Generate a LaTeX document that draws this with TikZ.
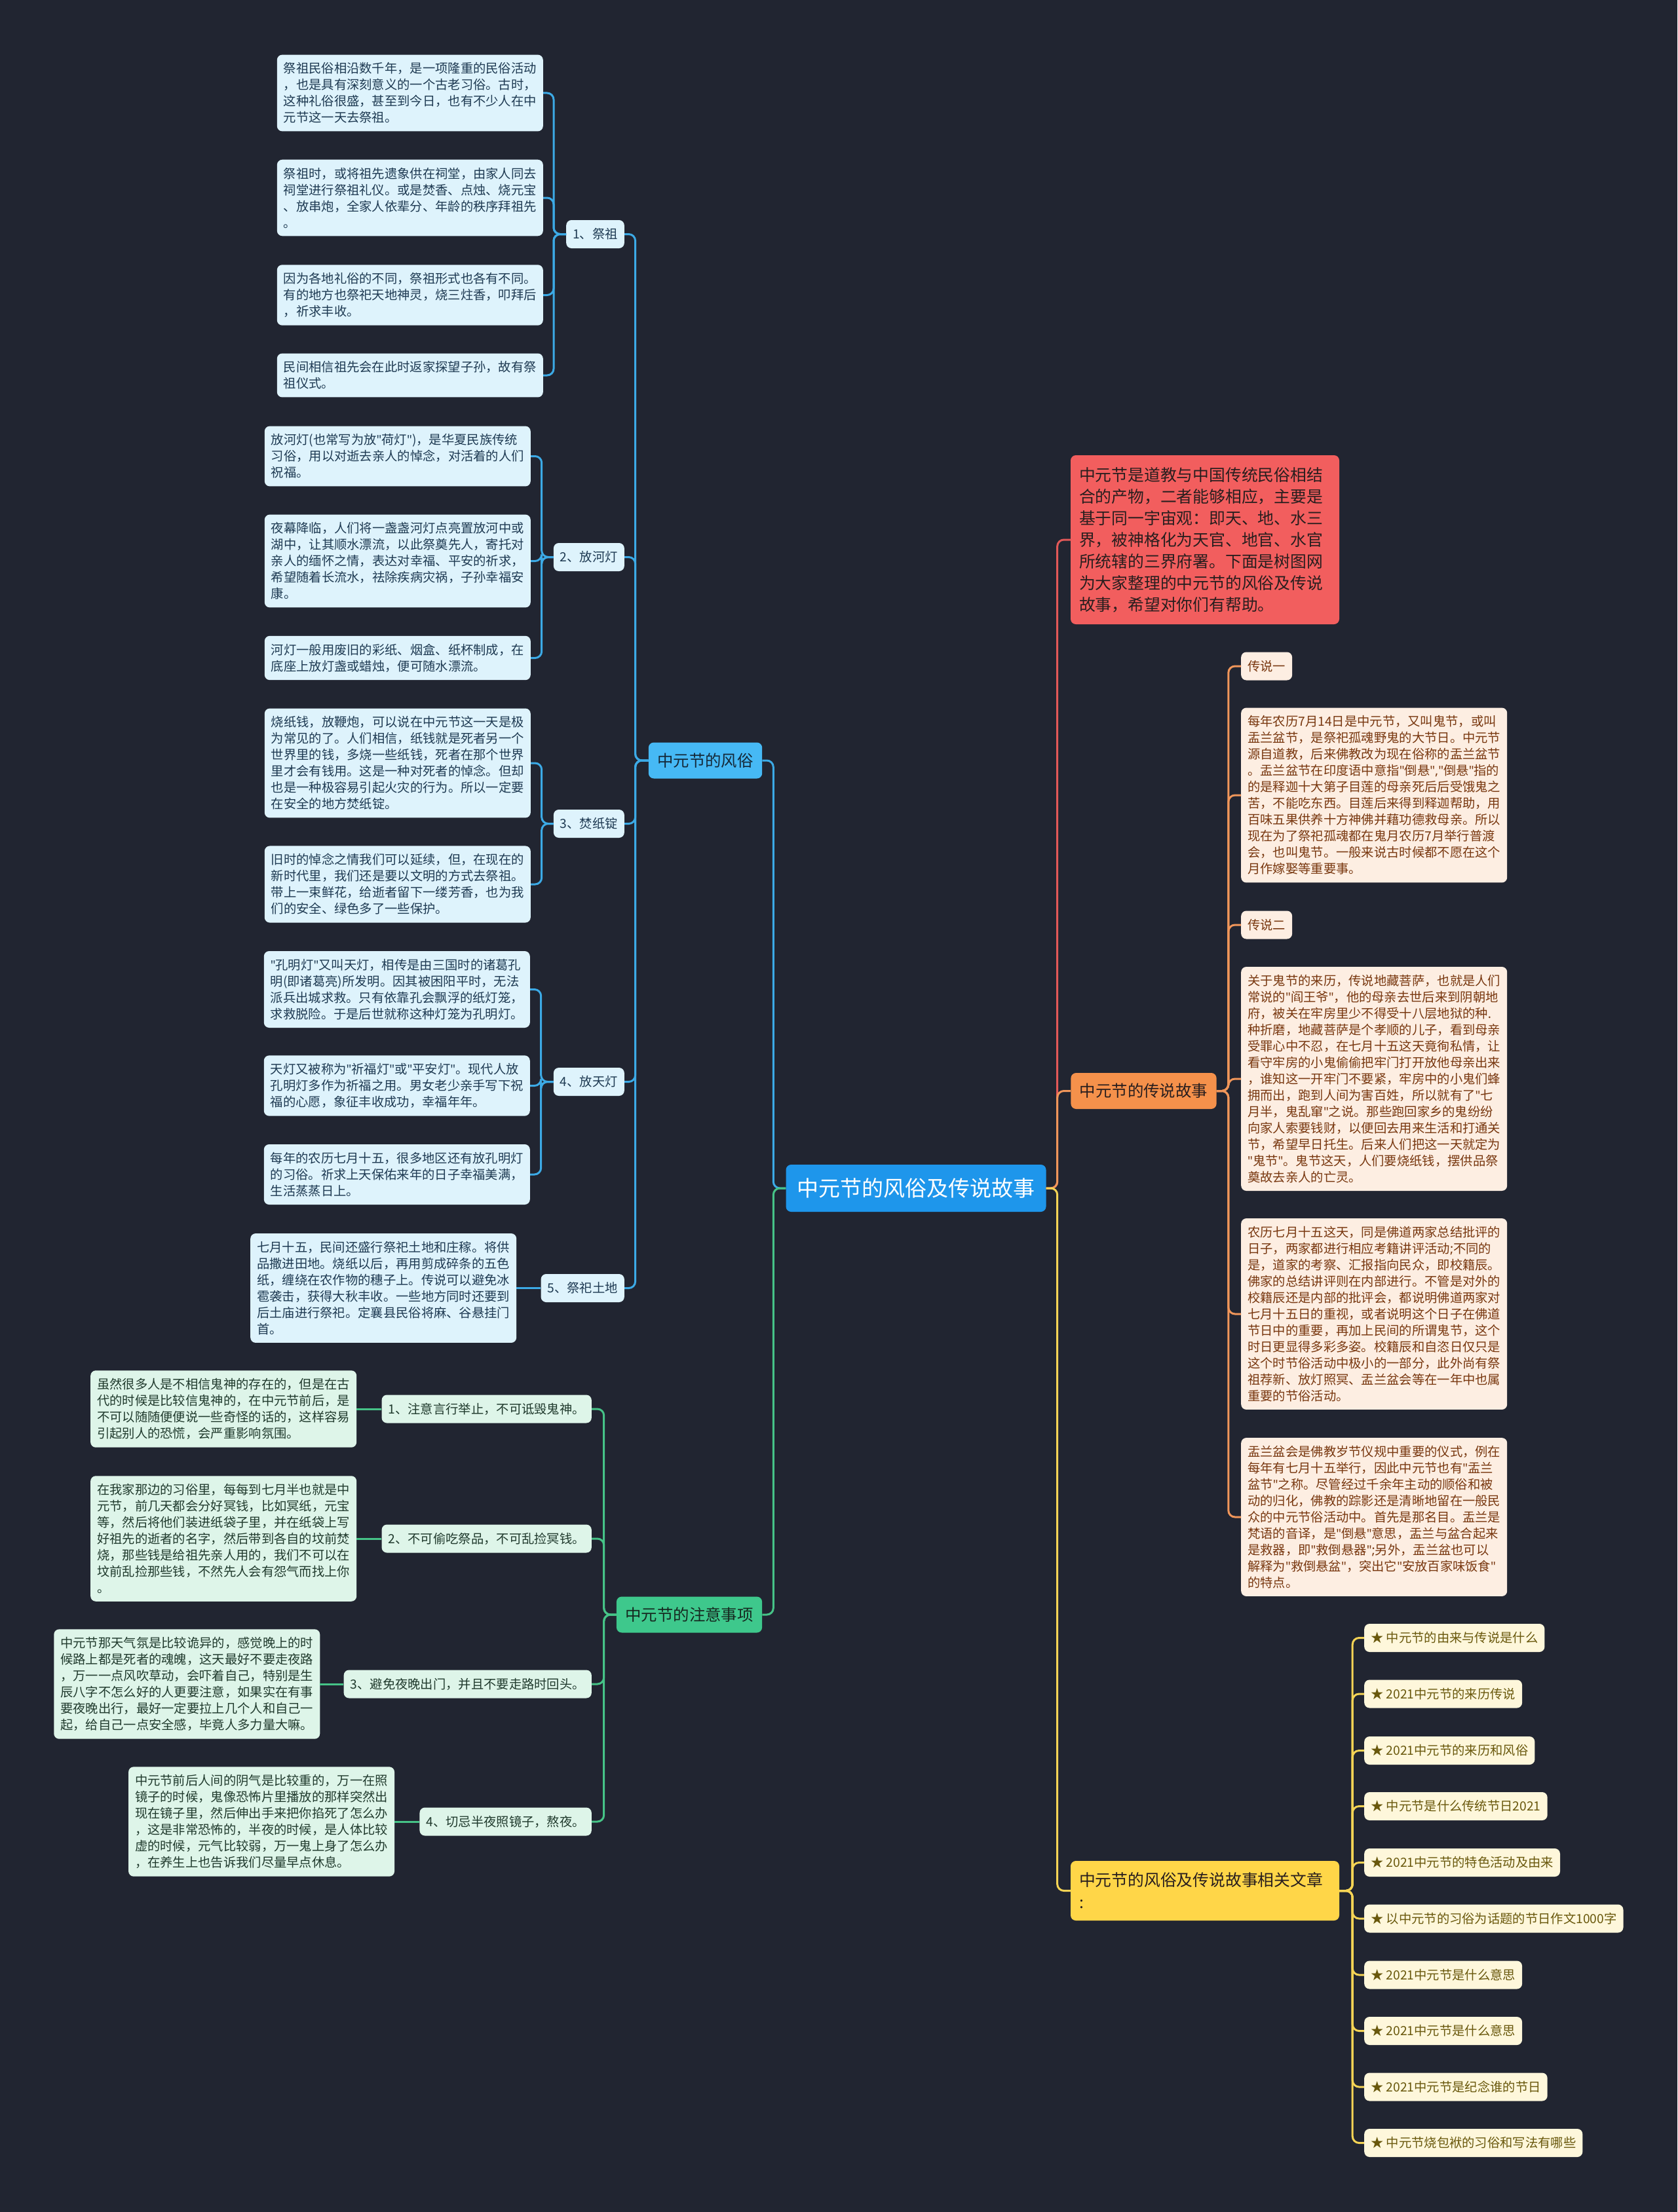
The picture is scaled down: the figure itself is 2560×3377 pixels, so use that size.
\documentclass[tikz,border=0pt]{standalone}
\usepackage{fontspec}
\setmainfont{Noto Sans CJK SC}
\newfontfamily\latinfont{Noto Sans}
\newcommand{\dq}{{\latinfont"}}
\usepackage{tikz}
\usepackage{xcolor}
\definecolor{bgdark}{RGB}{33,37,49}
\definecolor{rootblue}{RGB}{30,150,235}
\definecolor{skyblue}{RGB}{70,185,245}
\definecolor{bline}{RGB}{60,170,230}
\definecolor{bpale}{RGB}{222,243,252}
\definecolor{btext}{RGB}{30,58,82}
\definecolor{mint}{RGB}{62,200,140}
\definecolor{gline}{RGB}{70,195,135}
\definecolor{gpale}{RGB}{222,245,233}
\definecolor{gtext}{RGB}{32,58,45}
\definecolor{introred}{RGB}{242,94,94}
\definecolor{rline}{RGB}{226,88,88}
\definecolor{ptorange}{RGB}{245,145,75}
\definecolor{oline}{RGB}{240,150,90}
\definecolor{opale}{RGB}{253,238,226}
\definecolor{otext}{RGB}{120,55,15}
\definecolor{ptyellow}{RGB}{255,214,72}
\definecolor{yline}{RGB}{245,212,85}
\definecolor{ypale}{RGB}{254,247,219}
\definecolor{ytext}{RGB}{105,88,12}
\definecolor{darkink}{RGB}{40,30,30}
\usetikzlibrary{positioning}

\begin{document}
\begin{tikzpicture}[x=1pt, y=-1pt,
  rootnode/.style={fill=rootblue, text=white, rounded corners=8pt, inner xsep=17pt,
    minimum height=72pt, font=\fontsize{33}{40}\selectfont},
  branch/.style={rounded corners=8pt, inner xsep=13.5pt, minimum height=55pt,
    text=darkink, font=\fontsize{24.4}{33}\selectfont},
  bigbox/.style={rounded corners=8pt, inner xsep=13pt, text width=384pt, align=left,
    text=darkink},
  child/.style={rounded corners=8pt, inner xsep=10pt, minimum height=43pt,
    font=\fontsize{19.3}{25}\selectfont},
  leaf/.style={rounded corners=8pt, text width=386pt, inner xsep=10pt, inner ysep=12pt,
    align=left, font=\fontsize{19.3}{25}\selectfont},
  link/.style={draw=#1, line width=3pt, rounded corners=10pt}]

  \useasboundingbox (0,0) rectangle (2560,3377);
  \fill[bgdark] (0,0) rectangle (2560,3377);

  \node[rootnode] (root) at (1398,1814) {中元节的风俗及传说故事};

  \node[branch, fill=skyblue, text=btext!70!black] (fengsu) at (1076.5,1161) {中元节的风俗};
  \node[branch, fill=mint, text=gtext!70!black] (zhuyi) at (1052,2465) {中元节的注意事项};
  \node[bigbox, fill=introred, minimum height=258pt, font=\fontsize{24.8}{33}\selectfont]
    (intro) at (1839,824) {中元节是道教与中国传统民俗相结\\合的产物，二者能够相应，主要是\\基于同一宇宙观：即天、地、水三\\界，被神格化为天官、地官、水官\\所统辖的三界府署。下面是树图网\\为大家整理的中元节的风俗及传说\\故事，希望对你们有帮助。};
  \node[branch, fill=ptorange] (chuanshuo) at (1745.5,1665.5) {中元节的传说故事};
  \node[bigbox, fill=ptyellow, minimum height=91pt, font=\fontsize{24.8}{34}\selectfont]
    (wenzhang) at (1839,2886.5) {中元节的风俗及传说故事相关文章\\:};

  \node[child, fill=bpale, text=btext, anchor=east] (fs1) at (953,357.5) {1、祭祖};
  \node[child, fill=bpale, text=btext, anchor=east] (fs2) at (953,850.5) {2、放河灯};
  \node[child, fill=bpale, text=btext, anchor=east] (fs3) at (953,1257.5) {3、焚纸锭};
  \node[child, fill=bpale, text=btext, anchor=east] (fs4) at (953,1651.5) {4、放天灯};
  \node[child, fill=bpale, text=btext, anchor=east] (fs5) at (953,1966.5) {5、祭祀土地};

  \node[leaf, fill=bpale, text=btext, anchor=east] (l11) at (829,142)
    {祭祖民俗相沿数千年，是一项隆重的民俗活动\\，也是具有深刻意义的一个古老习俗。古时，\\这种礼俗很盛，甚至到今日，也有不少人在中\\元节这一天去祭祖。};
  \node[leaf, fill=bpale, text=btext, anchor=east] (l12) at (829,302)
    {祭祖时，或将祖先遗象供在祠堂，由家人同去\\祠堂进行祭祖礼仪。或是焚香、点烛、烧元宝\\、放串炮，全家人依辈分、年龄的秩序拜祖先\\。};
  \node[leaf, fill=bpale, text=btext, anchor=east] (l13) at (829,450.5)
    {因为各地礼俗的不同，祭祖形式也各有不同。\\有的地方也祭祀天地神灵，烧三炷香，叩拜后\\，祈求丰收。};
  \node[leaf, fill=bpale, text=btext, anchor=east] (l14) at (829,573)
    {民间相信祖先会在此时返家探望子孙，故有祭\\祖仪式。};
  \node[leaf, fill=bpale, text=btext, anchor=east] (l21) at (810,696.5)
    {放河灯(也常写为放\dq{}荷灯\dq{})，是华夏民族传统\\习俗，用以对逝去亲人的悼念，对活着的人们\\祝福。};
  \node[leaf, fill=bpale, text=btext, anchor=east] (l22) at (810,856.5)
    {夜幕降临，人们将一盏盏河灯点亮置放河中或\\湖中，让其顺水漂流，以此祭奠先人，寄托对\\亲人的缅怀之情，表达对幸福、平安的祈求，\\希望随着长流水，祛除疾病灾祸，子孙幸福安\\康。};
  \node[leaf, fill=bpale, text=btext, anchor=east] (l23) at (810,1004.5)
    {河灯一般用废旧的彩纸、烟盒、纸杯制成，在\\底座上放灯盏或蜡烛，便可随水漂流。};
  \node[leaf, fill=bpale, text=btext, anchor=east] (l31) at (810,1165)
    {烧纸钱，放鞭炮，可以说在中元节这一天是极\\为常见的了。人们相信，纸钱就是死者另一个\\世界里的钱，多烧一些纸钱，死者在那个世界\\里才会有钱用。这是一种对死者的悼念。但却\\也是一种极容易引起火灾的行为。所以一定要\\在安全的地方焚纸锭。};
  \node[leaf, fill=bpale, text=btext, anchor=east] (l32) at (810,1350)
    {旧时的悼念之情我们可以延续，但，在现在的\\新时代里，我们还是要以文明的方式去祭祖。\\带上一束鲜花，给逝者留下一缕芳香，也为我\\们的安全、绿色多了一些保护。};
  \node[leaf, fill=bpale, text=btext, anchor=east] (l41) at (809,1510.5)
    {\dq{}孔明灯\dq{}又叫天灯，相传是由三国时的诸葛孔\\明(即诸葛亮)所发明。因其被困阳平时，无法\\派兵出城求救。只有依靠孔会飘浮的纸灯笼，\\求救脱险。于是后世就称这种灯笼为孔明灯。};
  \node[leaf, fill=bpale, text=btext, anchor=east] (l42) at (809,1657.5)
    {天灯又被称为\dq{}祈福灯\dq{}或\dq{}平安灯\dq{}。现代人放\\孔明灯多作为祈福之用。男女老少亲手写下祝\\福的心愿，象征丰收成功，幸福年年。};
  \node[leaf, fill=bpale, text=btext, anchor=east] (l43) at (809,1793)
    {每年的农历七月十五，很多地区还有放孔明灯\\的习俗。祈求上天保佑来年的日子幸福美满，\\生活蒸蒸日上。};
  \node[leaf, fill=bpale, text=btext, left=37pt of fs5] (l51)
    {七月十五，民间还盛行祭祀土地和庄稼。将供\\品撒进田地。烧纸以后，再用剪成碎条的五色\\纸，缠绕在农作物的穗子上。传说可以避免冰\\雹袭击，获得大秋丰收。一些地方同时还要到\\后土庙进行祭祀。定襄县民俗将麻、谷悬挂门\\首。};

  \node[child, fill=gpale, text=gtext, anchor=east] (zy1) at (903,2151) {1、注意言行举止，不可诋毁鬼神。};
  \node[child, fill=gpale, text=gtext, anchor=east] (zy2) at (903,2349) {2、不可偷吃祭品，不可乱捡冥钱。};
  \node[child, fill=gpale, text=gtext, anchor=east] (zy3) at (903,2571) {3、避免夜晚出门，并且不要走路时回头。};
  \node[child, fill=gpale, text=gtext, anchor=east] (zy4) at (903,2781) {4、切忌半夜照镜子，熬夜。};

  \node[leaf, fill=gpale, text=gtext, left=38pt of zy1] (g1)
    {虽然很多人是不相信鬼神的存在的，但是在古\\代的时候是比较信鬼神的，在中元节前后，是\\不可以随随便便说一些奇怪的话的，这样容易\\引起别人的恐慌，会严重影响氛围。};
  \node[leaf, fill=gpale, text=gtext, left=38pt of zy2] (g2)
    {在我家那边的习俗里，每每到七月半也就是中\\元节，前几天都会分好冥钱，比如冥纸，元宝\\等，然后将他们装进纸袋子里，并在纸袋上写\\好祖先的逝者的名字，然后带到各自的坟前焚\\烧，那些钱是给祖先亲人用的，我们不可以在\\坟前乱捡那些钱，不然先人会有怨气而找上你\\。};
  \node[leaf, fill=gpale, text=gtext, left=36pt of zy3] (g3)
    {中元节那天气氛是比较诡异的，感觉晚上的时\\候路上都是死者的魂魄，这天最好不要走夜路\\，万一一点风吹草动，会吓着自己，特别是生\\辰八字不怎么好的人更要注意，如果实在有事\\要夜晚出行，最好一定要拉上几个人和自己一\\起，给自己一点安全感，毕竟人多力量大嘛。};
  \node[leaf, fill=gpale, text=gtext, left=38pt of zy4] (g4)
    {中元节前后人间的阴气是比较重的，万一在照\\镜子的时候，鬼像恐怖片里播放的那样突然出\\现在镜子里，然后伸出手来把你掐死了怎么办\\，这是非常恐怖的，半夜的时候，是人体比较\\虚的时候，元气比较弱，万一鬼上身了怎么办\\，在养生上也告诉我们尽量早点休息。};

  \node[child, fill=opale, text=otext, anchor=west] (cs1) at (1894,1017) {传说一};
  \node[leaf, fill=opale, text=otext, anchor=west] (ca) at (1894,1214)
    {每年农历7月14日是中元节，又叫鬼节，或叫\\盂兰盆节，是祭祀孤魂野鬼的大节日。中元节\\源自道教，后来佛教改为现在俗称的盂兰盆节\\。盂兰盆节在印度语中意指\dq{}倒悬\dq{}{\latinfont,}\dq{}倒悬\dq{}指的\\的是释迦十大第子目莲的母亲死后后受饿鬼之\\苦，不能吃东西。目莲后来得到释迦帮助，用\\百味五果供养十方神佛并藉功德救母亲。所以\\现在为了祭祀孤魂都在鬼月农历7月举行普渡\\会，也叫鬼节。一般来说古时候都不愿在这个\\月作嫁娶等重要事。};
  \node[child, fill=opale, text=otext, anchor=west] (cs2) at (1894,1412) {传说二};
  \node[leaf, fill=opale, text=otext, anchor=west] (cb) at (1894,1647)
    {关于鬼节的来历，传说地藏菩萨，也就是人们\\常说的\dq{}阎王爷\dq{}，他的母亲去世后来到阴朝地\\府，被关在牢房里少不得受十八层地狱的种{\latinfont.}\\种折磨，地藏菩萨是个孝顺的儿子，看到母亲\\受罪心中不忍，在七月十五这天竟徇私情，让\\看守牢房的小鬼偷偷把牢门打开放他母亲出来\\，谁知这一开牢门不要紧，牢房中的小鬼们蜂\\拥而出，跑到人间为害百姓，所以就有了\dq{}七\\月半，鬼乱窜\dq{}之说。那些跑回家乡的鬼纷纷\\向家人索要钱财，以便回去用来生活和打通关\\节，希望早日托生。后来人们把这一天就定为\\\dq{}鬼节\dq{}。鬼节这天，人们要烧纸钱，摆供品祭\\奠故去亲人的亡灵。};
  \node[leaf, fill=opale, text=otext, anchor=west] (cc) at (1894,2006)
    {农历七月十五这天，同是佛道两家总结批评的\\日子，两家都进行相应考籍讲评活动{\latinfont;}不同的\\是，道家的考察、汇报指向民众，即校籍辰。\\佛家的总结讲评则在内部进行。不管是对外的\\校籍辰还是内部的批评会，都说明佛道两家对\\七月十五日的重视，或者说明这个日子在佛道\\节日中的重要，再加上民间的所谓鬼节，这个\\时日更显得多彩多姿。校籍辰和自恣日仅只是\\这个时节俗活动中极小的一部分，此外尚有祭\\祖荐新、放灯照冥、盂兰盆会等在一年中也属\\重要的节俗活动。};
  \node[leaf, fill=opale, text=otext, anchor=west] (cd) at (1894,2316)
    {盂兰盆会是佛教岁节仪规中重要的仪式，例在\\每年有七月十五举行，因此中元节也有\dq{}盂兰\\盆节\dq{}之称。尽管经过千余年主动的顺俗和被\\动的归化，佛教的踪影还是清晰地留在一般民\\众的中元节俗活动中。首先是那名目。盂兰是\\梵语的音译，是\dq{}倒悬\dq{}意思，盂兰与盆合起来\\是救器，即\dq{}救倒悬器\dq{}{\latinfont;}另外，盂兰盆也可以\\解释为\dq{}救倒悬盆\dq{}，突出它\dq{}安放百家味饭食\dq{}\\的特点。};

  \node[child, fill=ypale, text=ytext, anchor=west] (a1) at (2082,2500.5) {★ 中元节的由来与传说是什么};
  \node[child, fill=ypale, text=ytext, anchor=west] (a2) at (2082,2586) {★ 2021中元节的来历传说};
  \node[child, fill=ypale, text=ytext, anchor=west] (a3) at (2082,2672.5) {★ 2021中元节的来历和风俗};
  \node[child, fill=ypale, text=ytext, anchor=west] (a4) at (2082,2757.5) {★ 中元节是什么传统节日2021};
  \node[child, fill=ypale, text=ytext, anchor=west] (a5) at (2082,2843.5) {★ 2021中元节的特色活动及由来};
  \node[child, fill=ypale, text=ytext, anchor=west] (a6) at (2082,2929) {★ 以中元节的习俗为话题的节日作文1000字};
  \node[child, fill=ypale, text=ytext, anchor=west] (a7) at (2082,3015) {★ 2021中元节是什么意思};
  \node[child, fill=ypale, text=ytext, anchor=west] (a8) at (2082,3100.5) {★ 2021中元节是什么意思};
  \node[child, fill=ypale, text=ytext, anchor=west] (a9) at (2082,3186) {★ 2021中元节是纪念谁的节日};
  \node[child, fill=ypale, text=ytext, anchor=west] (a10) at (2082,3271.5) {★ 中元节烧包袱的习俗和写法有哪些};

  \draw[link=bline] (root.west) -- ++(-19,0) |- (fengsu.east);
  \draw[link=gline] (root.west) -- ++(-19,0) |- (zhuyi.east);
  \draw[link=rline] (root.east) -- ++(17,0) |- (intro.west);
  \draw[link=oline] (root.east) -- ++(17,0) |- (chuanshuo.west);
  \draw[link=yline] (root.east) -- ++(17,0) |- (wenzhang.west);

  \foreach \k in {1,...,5}
    \draw[link=bline] (fengsu.west) -- ++(-20,0) |- (fs\k.east);
  \foreach \k in {1,...,4}
    \draw[link=bline] (fs1.west) -- ++(-19,0) |- (l1\k.east);
  \foreach \k in {1,...,3}
    \draw[link=bline] (fs2.west) -- ++(-18,0) |- (l2\k.east);
  \foreach \k in {1,2}
    \draw[link=bline] (fs3.west) -- ++(-18,0) |- (l3\k.east);
  \foreach \k in {1,...,3}
    \draw[link=bline] (fs4.west) -- ++(-19,0) |- (l4\k.east);
  \draw[link=bline] (fs5.west) -- (l51.east);

  \foreach \k in {1,...,4} {
    \draw[link=gline] (zhuyi.west) -- ++(-19,0) |- (zy\k.east);
    \draw[link=gline] (zy\k.west) -- (g\k.east);
  }

  \foreach \t in {cs1,ca,cs2,cb,cc,cd}
    \draw[link=oline] (chuanshuo.east) -- ++(18,0) |- (\t.west);
  \foreach \k in {1,...,10}
    \draw[link=yline] (wenzhang.east) -- ++(20,0) |- (a\k.west);
\end{tikzpicture}
\end{document}
